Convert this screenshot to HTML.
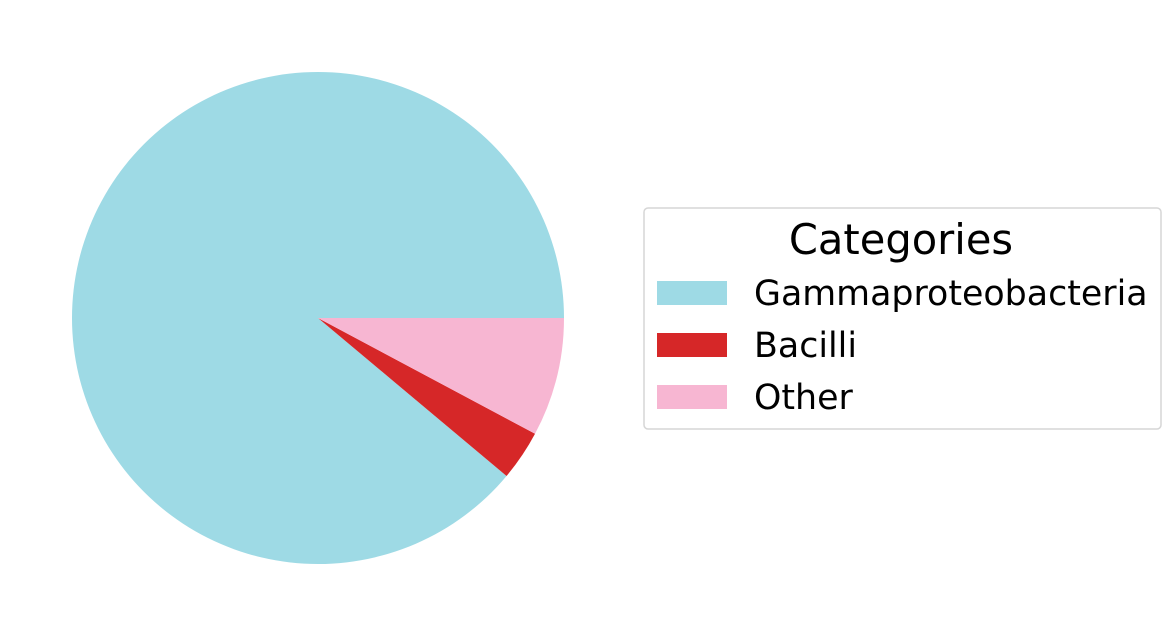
<!DOCTYPE html>
<html><head><meta charset="utf-8"><style>
html,body{margin:0;padding:0;background:#fff;}
svg{display:block;font-family:"DejaVu Sans","Liberation Sans",sans-serif;}
</style></head><body>
<svg id="chart" width="1170" height="636" viewBox="0 0 1170 636">
<g id="slices"></g>
<g>
<rect x="644" y="208" width="517" height="221" rx="4" fill="#fff" stroke="#d6d6d6" stroke-width="1.5"/>
<text x="901" y="254" font-size="41.6" text-anchor="middle" fill="#000">Categories</text>
<g id="legend-entries"></g>
</g>
</svg>
<script>
const categories = ["Gammaproteobacteria", "Bacilli", "Other"];
const values = [88.9, 3.3, 7.8];
const colors = ["#9edae5", "#d62728", "#f7b6d2"];

const cx = 318, cy = 318, r = 246;
const ns = "http://www.w3.org/2000/svg";
const total = values.reduce((a, b) => a + b, 0);
const sg = document.getElementById("slices");
let a0 = 0;
values.forEach((v, i) => {
  const a1 = a0 + v / total * 2 * Math.PI;
  const x0 = cx + r * Math.cos(a0), y0 = cy - r * Math.sin(a0);
  const x1 = cx + r * Math.cos(a1), y1 = cy - r * Math.sin(a1);
  const large = (a1 - a0) > Math.PI ? 1 : 0;
  const p = document.createElementNS(ns, "path");
  p.setAttribute("d", `M${cx},${cy} L${x0},${y0} A${r},${r} 0 ${large} 0 ${x1},${y1} Z`);
  p.setAttribute("fill", colors[i]);
  
  
  sg.appendChild(p);
  a0 = a1;
});
const lg = document.getElementById("legend-entries");
categories.forEach((c, i) => {
  const y = 293 + i * 52;
  const rect = document.createElementNS(ns, "rect");
  rect.setAttribute("x", 657); rect.setAttribute("y", y - 12);
  rect.setAttribute("width", 70); rect.setAttribute("height", 24);
  rect.setAttribute("fill", colors[i]);
  
  
  lg.appendChild(rect);
  const t = document.createElementNS(ns, "text");
  t.setAttribute("x", 754); t.setAttribute("y", y + 12);
  t.setAttribute("font-size", "34.8"); t.setAttribute("fill", "#000");
  t.textContent = c;
  
  
  lg.appendChild(t);
});
</script>
</body></html>
